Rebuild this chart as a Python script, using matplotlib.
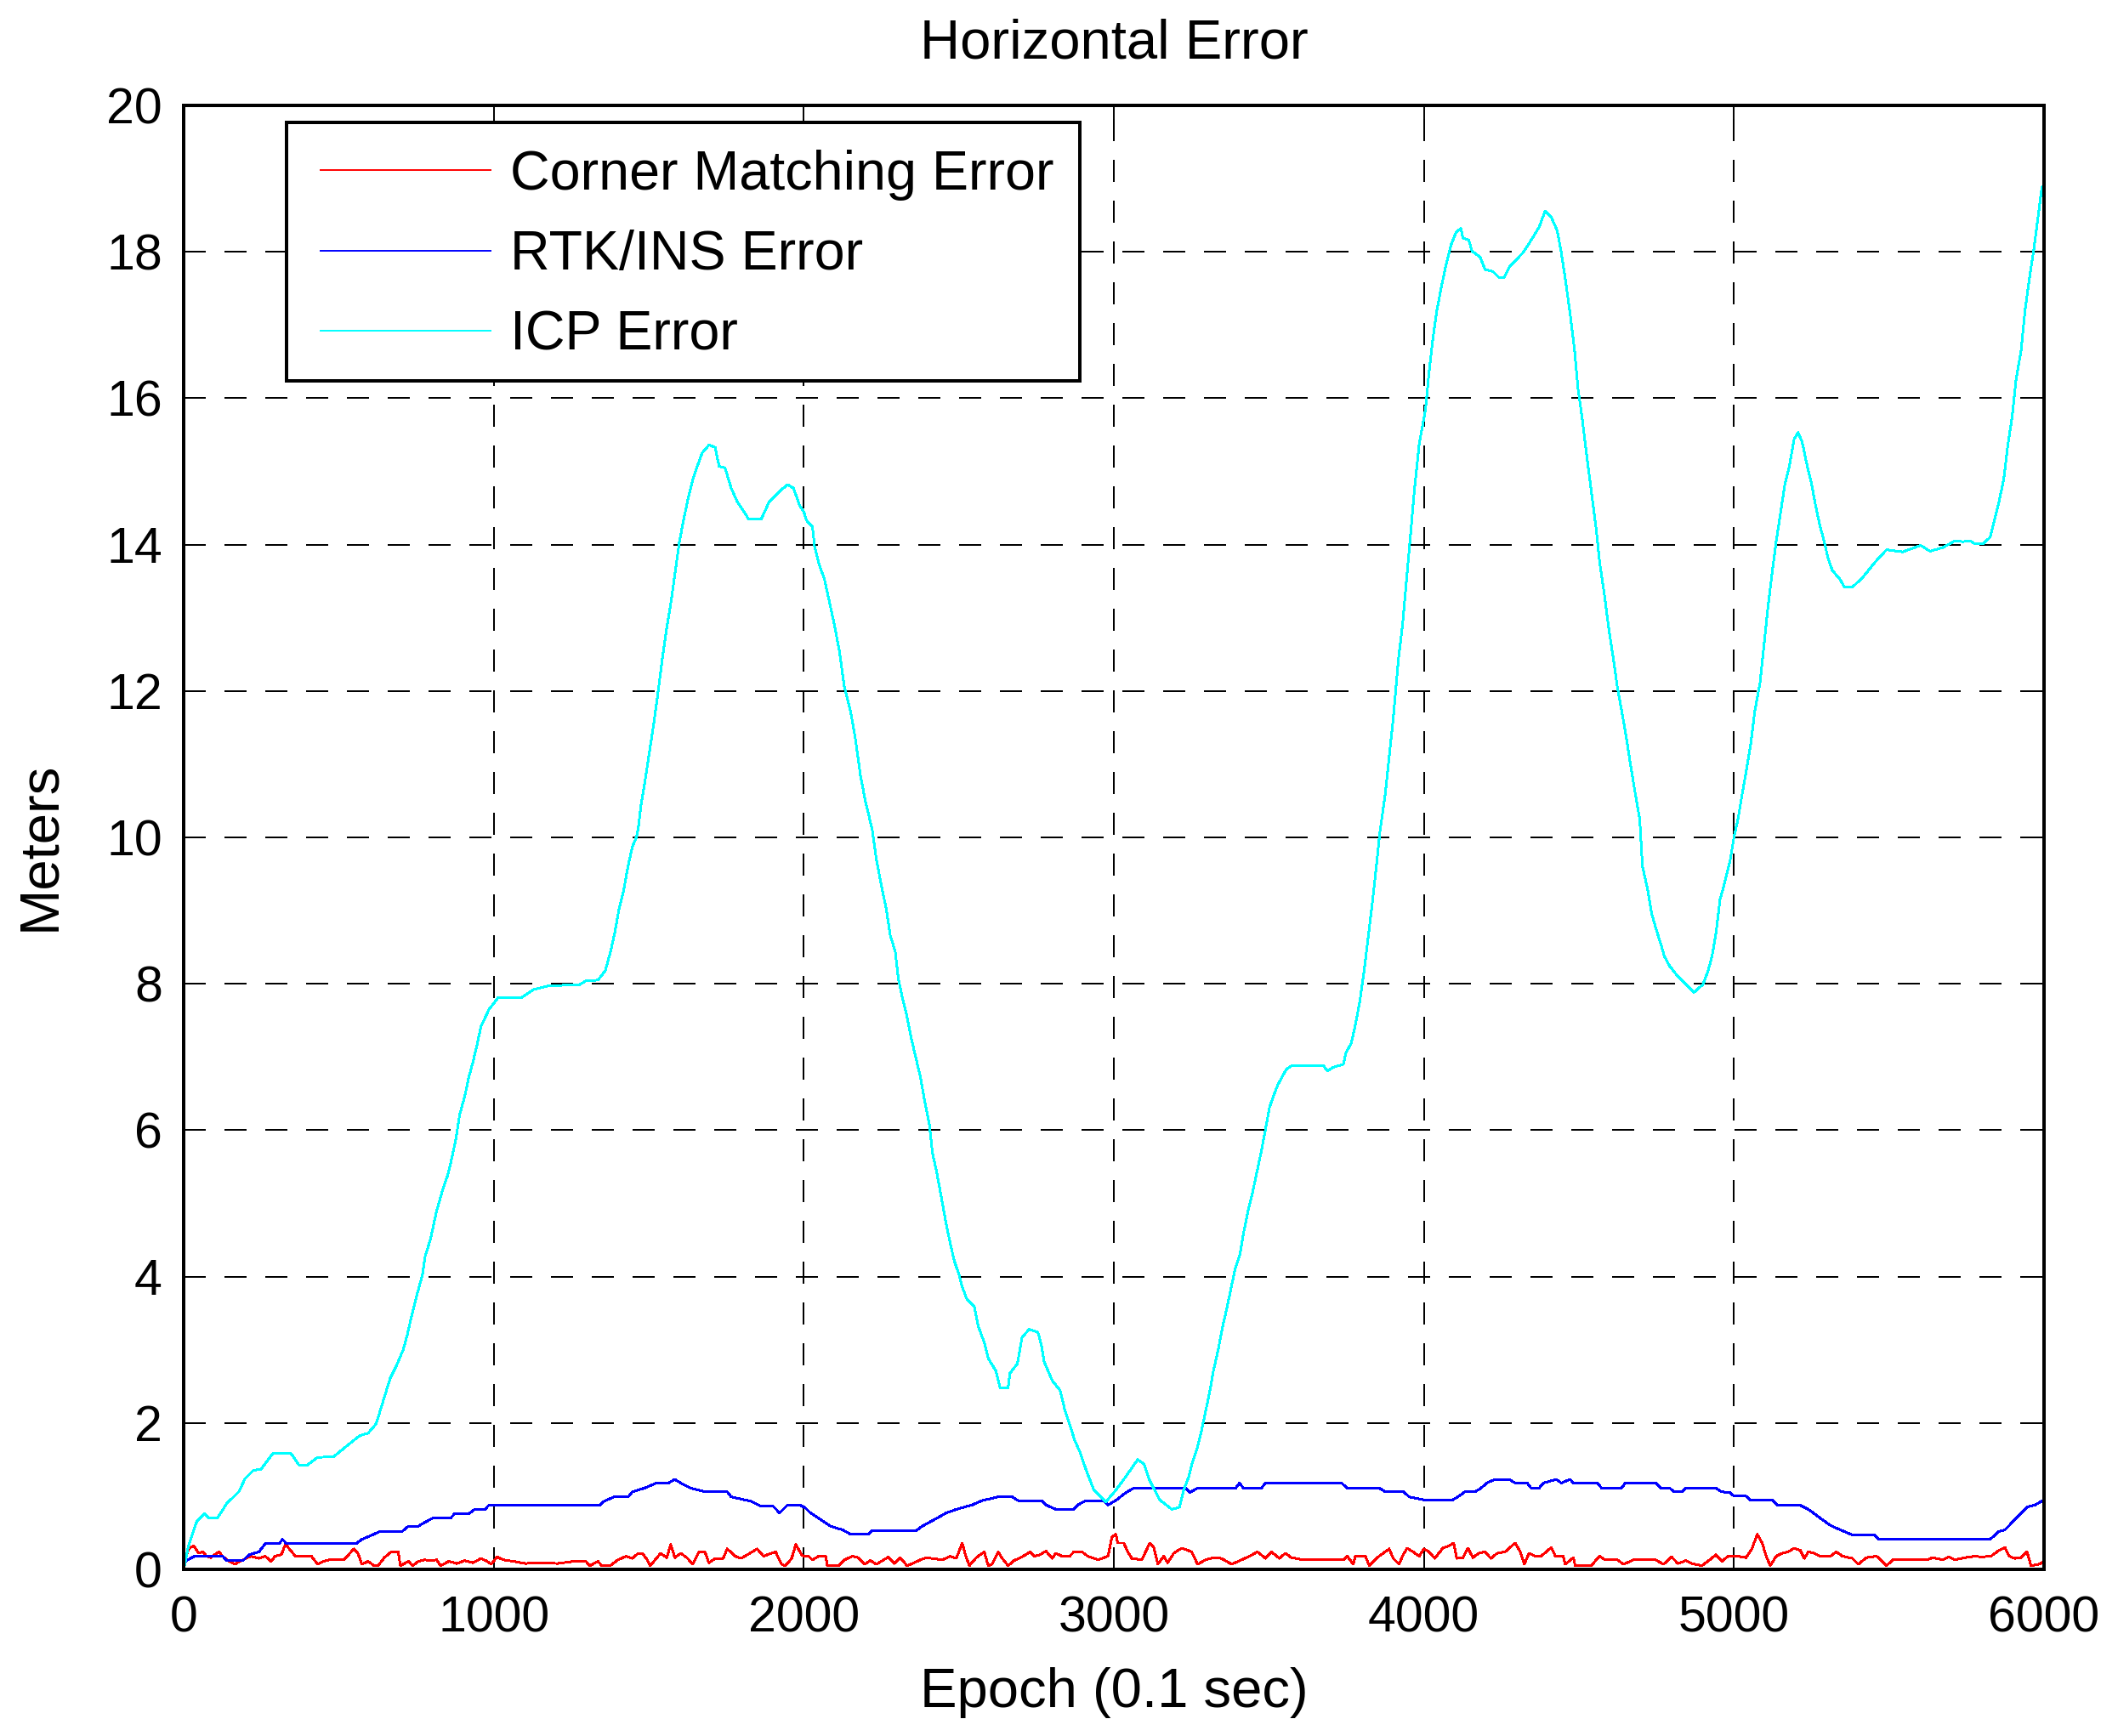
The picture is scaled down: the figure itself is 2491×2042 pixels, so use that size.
import matplotlib
matplotlib.use("Agg")
import matplotlib.pyplot as plt
from matplotlib.patches import Rectangle

plt.rcParams['font.family'] = ['Liberation Sans', 'DejaVu Sans']
plt.rcParams['lines.scale_dashes'] = False

# ---------------- data ----------------
title = "Horizontal Error"
xlabel = "Epoch (0.1 sec)"
ylabel = "Meters"
series_names = ["Corner Matching Error", "RTK/INS Error", "ICP Error"]
series_colors = ["#ff0000", "#0000ff", "#00ffff"]
x_ticks = [0, 1000, 2000, 3000, 4000, 5000, 6000]
y_ticks = [0, 2, 4, 6, 8, 10, 12, 14, 16, 18, 20]

corner_points = [
    (0, 0.07), (16, 0.28), (22, 0.30), (33, 0.32), (42, 0.26), (48, 0.22), (61, 0.24), (74, 0.18),
    (87, 0.16), (100, 0.20), (113, 0.24), (126, 0.18), (139, 0.13), (165, 0.07), (191, 0.13),
    (217, 0.18), (243, 0.15), (263, 0.18), (282, 0.11), (295, 0.18), (315, 0.20), (328, 0.34),
    (341, 0.28), (360, 0.18), (412, 0.18), (432, 0.07), (452, 0.11), (471, 0.13), (517, 0.13),
    (549, 0.28), (562, 0.22), (575, 0.07), (595, 0.11), (614, 0.05), (627, 0.05), (647, 0.16),
    (670, 0.24), (692, 0.24), (699, 0.05), (725, 0.11), (738, 0.05), (757, 0.11), (777, 0.13),
    (796, 0.12), (816, 0.13), (829, 0.05), (855, 0.11), (881, 0.08), (907, 0.12), (933, 0.09),
    (959, 0.15), (979, 0.11), (992, 0.07), (1011, 0.17), (1031, 0.13), (1063, 0.11), (1102, 0.08),
    (1154, 0.09), (1206, 0.08), (1258, 0.11), (1297, 0.11), (1310, 0.05), (1336, 0.11), (1349, 0.05),
    (1375, 0.05), (1401, 0.13), (1427, 0.18), (1447, 0.15), (1466, 0.22), (1479, 0.22), (1492, 0.15),
    (1505, 0.05), (1538, 0.22), (1558, 0.16), (1571, 0.34), (1584, 0.16), (1603, 0.22), (1623, 0.16),
    (1642, 0.07), (1662, 0.24), (1681, 0.24), (1694, 0.09), (1714, 0.15), (1740, 0.15), (1753, 0.28),
    (1779, 0.18), (1798, 0.15), (1818, 0.20), (1850, 0.28), (1870, 0.18), (1909, 0.24), (1928, 0.07),
    (1941, 0.05), (1961, 0.15), (1974, 0.34), (1993, 0.20),
    (2000, 0.18), (2015, 0.18), (2028, 0.13), (2048, 0.18), (2071, 0.18), (2076, 0.05), (2112, 0.05),
    (2131, 0.13), (2157, 0.18), (2176, 0.16), (2196, 0.07), (2215, 0.12), (2234, 0.07), (2254, 0.12),
    (2273, 0.17), (2292, 0.08), (2311, 0.16), (2333, 0.05), (2356, 0.09), (2376, 0.13), (2395, 0.16),
    (2447, 0.13), (2472, 0.18), (2492, 0.15), (2511, 0.36), (2521, 0.20), (2534, 0.05), (2556, 0.16),
    (2582, 0.24), (2595, 0.05), (2607, 0.07), (2627, 0.24), (2640, 0.15), (2659, 0.05), (2678, 0.12),
    (2704, 0.17), (2730, 0.24), (2743, 0.18), (2762, 0.20), (2781, 0.25), (2801, 0.15), (2813, 0.22),
    (2833, 0.18), (2858, 0.18), (2871, 0.24), (2897, 0.24), (2916, 0.18), (2949, 0.13), (2981, 0.18),
    (2994, 0.44), (3006, 0.48), (3013, 0.36), (3032, 0.36), (3045, 0.24), (3058, 0.15), (3090, 0.13),
    (3116, 0.36), (3129, 0.30), (3142, 0.07), (3161, 0.18), (3174, 0.09), (3193, 0.22), (3219, 0.29),
    (3251, 0.24), (3270, 0.07), (3296, 0.13), (3322, 0.16), (3347, 0.15), (3380, 0.07), (3412, 0.13),
    (3438, 0.18), (3463, 0.24), (3489, 0.15), (3508, 0.24), (3534, 0.15), (3553, 0.22), (3573, 0.16),
    (3611, 0.13), (3669, 0.13), (3740, 0.13), (3753, 0.18), (3772, 0.07), (3779, 0.18), (3811, 0.18),
    (3824, 0.05), (3849, 0.16), (3888, 0.28), (3901, 0.15), (3920, 0.07), (3933, 0.20), (3946, 0.29),
    (3965, 0.24), (3985, 0.18),
    (4000, 0.28), (4016, 0.24), (4035, 0.15), (4048, 0.22), (4061, 0.29), (4080, 0.32), (4096, 0.36),
    (4106, 0.15), (4126, 0.16), (4142, 0.29), (4158, 0.16), (4177, 0.22), (4197, 0.24), (4216, 0.15),
    (4236, 0.22), (4262, 0.24), (4294, 0.36), (4311, 0.24), (4324, 0.07), (4339, 0.22), (4359, 0.18),
    (4378, 0.18), (4411, 0.30), (4424, 0.18), (4449, 0.18), (4456, 0.07), (4482, 0.16), (4488, 0.05),
    (4540, 0.05), (4566, 0.18), (4585, 0.13), (4624, 0.13), (4644, 0.07), (4676, 0.13), (4705, 0.13),
    (4747, 0.13), (4773, 0.07), (4799, 0.17), (4819, 0.08), (4845, 0.12), (4864, 0.08), (4896, 0.05),
    (4922, 0.13), (4942, 0.20), (4961, 0.11), (4981, 0.18), (4994, 0.18), (5013, 0.18), (5039, 0.16),
    (5058, 0.28), (5075, 0.48), (5091, 0.36), (5104, 0.18), (5117, 0.05), (5136, 0.18), (5155, 0.22),
    (5175, 0.24), (5194, 0.29), (5214, 0.26), (5227, 0.15), (5240, 0.24), (5259, 0.22), (5278, 0.18),
    (5311, 0.18), (5330, 0.24), (5350, 0.18), (5382, 0.15), (5401, 0.07), (5427, 0.16), (5460, 0.18),
    (5492, 0.05), (5512, 0.13), (5622, 0.13), (5641, 0.16), (5674, 0.13), (5693, 0.17), (5712, 0.13),
    (5745, 0.16), (5777, 0.18), (5797, 0.17), (5829, 0.18), (5855, 0.26), (5874, 0.30), (5887, 0.18),
    (5906, 0.15), (5926, 0.16), (5945, 0.24), (5958, 0.05), (5984, 0.07), (6000, 0.11),
]

rtk_points = [
    (0, 0.07), (9, 0.12), (35, 0.18), (126, 0.18), (139, 0.12), (191, 0.12), (211, 0.20), (243, 0.24),
    (263, 0.35), (308, 0.35), (319, 0.41), (332, 0.35), (556, 0.35), (575, 0.41), (608, 0.47),
    (634, 0.52), (705, 0.52), (725, 0.59), (757, 0.59), (777, 0.64), (803, 0.70), (861, 0.70),
    (874, 0.76), (920, 0.76), (939, 0.82), (972, 0.82), (985, 0.88), (1343, 0.88), (1356, 0.93),
    (1388, 0.99), (1434, 0.99), (1447, 1.06), (1486, 1.11), (1525, 1.18), (1564, 1.18), (1584, 1.23),
    (1603, 1.18), (1636, 1.11), (1681, 1.06), (1753, 1.06), (1766, 0.99), (1831, 0.93), (1863, 0.86),
    (1902, 0.86), (1922, 0.77), (1948, 0.88), (1987, 0.88), (2005, 0.84), (2022, 0.77), (2048, 0.70),
    (2086, 0.59), (2125, 0.54), (2151, 0.48), (2209, 0.48), (2221, 0.53), (2363, 0.53), (2382, 0.59),
    (2408, 0.65), (2434, 0.71), (2459, 0.77), (2492, 0.82), (2543, 0.88), (2575, 0.94), (2627, 0.99),
    (2672, 0.99), (2691, 0.94), (2768, 0.94), (2781, 0.88), (2813, 0.82), (2871, 0.82), (2884, 0.88),
    (2910, 0.94), (2968, 0.94), (2981, 0.88), (3006, 0.94), (3039, 1.05), (3064, 1.11), (3232, 1.11),
    (3245, 1.05), (3270, 1.11), (3393, 1.11), (3405, 1.18), (3418, 1.11), (3476, 1.11), (3489, 1.18),
    (3734, 1.18), (3753, 1.11), (3856, 1.11), (3876, 1.06), (3934, 1.06), (3953, 0.99), (4000, 0.95),
    (4093, 0.95), (4113, 1.00), (4132, 1.06), (4165, 1.06), (4184, 1.11), (4203, 1.18), (4229, 1.23),
    (4275, 1.23), (4294, 1.18), (4333, 1.18), (4346, 1.11), (4372, 1.11), (4385, 1.18), (4427, 1.23),
    (4443, 1.18), (4472, 1.23), (4482, 1.18), (4560, 1.18), (4573, 1.11), (4637, 1.11), (4650, 1.18),
    (4747, 1.18), (4764, 1.11), (4793, 1.11), (4806, 1.06), (4832, 1.06), (4845, 1.11), (4942, 1.11),
    (4959, 1.06), (4987, 1.05), (5000, 1.00), (5039, 1.00), (5052, 0.95), (5123, 0.95), (5140, 0.88),
    (5212, 0.88), (5240, 0.82), (5272, 0.72), (5311, 0.60), (5343, 0.54), (5382, 0.47), (5453, 0.47),
    (5466, 0.41), (5826, 0.41), (5855, 0.52), (5874, 0.54), (5913, 0.71), (5945, 0.85), (5971, 0.88),
    (6000, 0.95),
]

icp_points = [
    (0, 0.0), (16, 0.33), (29, 0.49), (42, 0.65), (68, 0.76), (81, 0.70), (109, 0.70), (139, 0.90),
    (178, 1.06), (198, 1.24), (224, 1.35), (250, 1.37), (289, 1.59), (345, 1.59), (373, 1.42),
    (397, 1.42), (432, 1.53), (484, 1.54), (530, 1.70), (569, 1.83), (595, 1.86), (621, 1.99),
    (640, 2.25), (666, 2.61), (686, 2.78), (708, 3.00), (721, 3.20), (735, 3.46), (751, 3.73),
    (770, 4.02), (779, 4.28), (796, 4.51), (816, 4.90), (835, 5.18), (852, 5.39), (865, 5.62),
    (878, 5.88), (890, 6.21), (907, 6.47), (920, 6.73), (933, 6.93), (946, 7.16), (959, 7.42),
    (985, 7.65), (1014, 7.81), (1089, 7.81), (1128, 7.92), (1174, 7.97), (1278, 7.99), (1297, 8.04),
    (1336, 8.05), (1360, 8.18), (1378, 8.46), (1391, 8.71), (1404, 9.02), (1418, 9.25), (1432, 9.58),
    (1447, 9.87), (1460, 10.00), (1466, 10.12), (1475, 10.44), (1489, 10.80), (1502, 11.16),
    (1516, 11.55), (1529, 11.95), (1545, 12.48), (1558, 12.86), (1573, 13.25), (1586, 13.65),
    (1599, 14.04), (1612, 14.33), (1629, 14.67), (1642, 14.89), (1655, 15.05), (1672, 15.25),
    (1694, 15.36), (1714, 15.33), (1727, 15.07), (1746, 15.05), (1766, 14.77), (1785, 14.59),
    (1822, 14.35), (1863, 14.35), (1889, 14.59), (1922, 14.73), (1948, 14.82), (1967, 14.77),
    (1987, 14.53), (2000, 14.45), (2009, 14.33), (2028, 14.24), (2035, 13.97), (2048, 13.75),
    (2067, 13.52), (2084, 13.19), (2099, 12.90), (2115, 12.54), (2131, 12.05), (2151, 11.72),
    (2166, 11.36), (2183, 10.84), (2198, 10.51), (2221, 10.10), (2234, 9.70), (2250, 9.35),
    (2266, 9.02), (2279, 8.66), (2295, 8.44), (2305, 8.07), (2318, 7.81), (2333, 7.55), (2346, 7.27),
    (2363, 6.96), (2376, 6.73), (2389, 6.42), (2405, 6.08), (2415, 5.69), (2428, 5.44), (2443, 5.10),
    (2457, 4.77), (2470, 4.50), (2485, 4.22), (2501, 4.02), (2511, 3.86), (2526, 3.69), (2550, 3.59),
    (2562, 3.33), (2582, 3.10), (2595, 2.88), (2620, 2.71), (2633, 2.48), (2659, 2.48), (2665, 2.68),
    (2689, 2.81), (2704, 3.17), (2727, 3.28), (2755, 3.24), (2766, 3.07), (2775, 2.84), (2801, 2.58),
    (2826, 2.45), (2843, 2.16), (2859, 1.96), (2874, 1.76), (2891, 1.60), (2912, 1.34), (2936, 1.08),
    (2974, 0.92), (3006, 1.08), (3039, 1.27), (3077, 1.50), (3097, 1.44), (3116, 1.21), (3148, 0.95),
    (3187, 0.82), (3212, 0.85), (3225, 1.08), (3242, 1.27), (3254, 1.47), (3270, 1.67), (3283, 1.90),
    (3296, 2.16), (3309, 2.42), (3321, 2.71), (3337, 3.01), (3350, 3.30), (3364, 3.56), (3379, 3.86),
    (3392, 4.12), (3407, 4.31), (3418, 4.59), (3433, 4.90), (3448, 5.16), (3463, 5.46), (3476, 5.72),
    (3489, 6.01), (3502, 6.31), (3515, 6.47), (3530, 6.63), (3556, 6.83), (3573, 6.88), (3676, 6.88),
    (3689, 6.81), (3708, 6.86), (3740, 6.90), (3749, 7.06), (3766, 7.19), (3781, 7.48), (3794, 7.78),
    (3807, 8.17), (3820, 8.63), (3833, 9.08), (3846, 9.58), (3858, 10.07), (3875, 10.58),
    (3888, 11.10), (3901, 11.62), (3918, 12.44), (3931, 12.90), (3944, 13.52), (3957, 14.14),
    (3969, 14.73), (3985, 15.38), (4005, 15.84), (4016, 16.33), (4028, 16.78), (4041, 17.18),
    (4054, 17.47), (4070, 17.80), (4087, 18.09), (4104, 18.27), (4119, 18.32), (4126, 18.19),
    (4145, 18.16), (4155, 18.01), (4181, 17.93), (4197, 17.76), (4223, 17.73), (4242, 17.65),
    (4259, 17.65), (4277, 17.80), (4320, 17.99), (4346, 18.16), (4372, 18.34), (4391, 18.56),
    (4411, 18.47), (4430, 18.29), (4443, 17.99), (4456, 17.63), (4472, 17.14), (4486, 16.65),
    (4497, 16.13), (4510, 15.74), (4525, 15.22), (4540, 14.73), (4556, 14.20), (4567, 13.75),
    (4582, 13.32), (4596, 12.86), (4611, 12.44), (4624, 12.05), (4637, 11.75), (4653, 11.36),
    (4666, 11.00), (4680, 10.64), (4696, 10.25), (4705, 9.60), (4722, 9.28), (4735, 8.95),
    (4750, 8.73), (4763, 8.56), (4776, 8.37), (4793, 8.24), (4819, 8.10), (4858, 7.94), (4870, 7.88),
    (4900, 7.99), (4916, 8.17), (4929, 8.37), (4942, 8.69), (4955, 9.15), (4970, 9.38), (4987, 9.67),
    (5000, 10.00), (5013, 10.25), (5026, 10.58), (5041, 10.94), (5054, 11.27), (5067, 11.72),
    (5084, 12.11), (5097, 12.63), (5110, 13.16), (5123, 13.61), (5136, 14.04), (5148, 14.37),
    (5164, 14.82), (5179, 15.08), (5194, 15.44), (5207, 15.53), (5220, 15.40), (5236, 15.08),
    (5249, 14.86), (5262, 14.56), (5275, 14.30), (5289, 14.07), (5304, 13.81), (5317, 13.65),
    (5343, 13.52), (5356, 13.42), (5382, 13.42), (5415, 13.55), (5453, 13.75), (5492, 13.93),
    (5544, 13.90), (5570, 13.94), (5602, 13.99), (5632, 13.91), (5674, 13.96), (5712, 14.05),
    (5738, 14.04), (5762, 14.05), (5777, 14.01), (5803, 14.01), (5826, 14.10), (5842, 14.37),
    (5855, 14.59), (5870, 14.89), (5883, 15.35), (5897, 15.74), (5910, 16.26), (5926, 16.65),
    (5939, 17.21), (5954, 17.67), (5967, 18.03), (5980, 18.45), (5993, 18.88), (6000, 18.90),
]

# ---------------- figure ----------------
W, H = 2491, 2042
fig = plt.figure(figsize=(W / 100, H / 100), dpi=100)
fig.patch.set_facecolor('white')

ax_left, ax_right, ax_top, ax_bottom = 216, 2404, 124, 1846
axw, axh = ax_right - ax_left, ax_bottom - ax_top
ax = fig.add_axes([ax_left / W, (H - ax_bottom) / H, axw / W, axh / H])


def ax_fx(px):
    return (px - ax_left) / axw


def ax_fy(py):
    return (ax_bottom - py) / axh


lw = 1.4
for pts, name, col in zip([corner_points, rtk_points, icp_points], series_names, series_colors):
    xs, ys = zip(*pts)
    ax.plot(xs, ys, color=col, linewidth=lw, label=name, zorder=3, antialiased=False)

ax.set_xlim(0, 6000)
ax.set_ylim(0, 20)
ax.set_xticks(x_ticks)
ax.set_yticks(y_ticks)
ax.set_xticklabels([str(v) for v in x_ticks])
ax.set_yticklabels([str(v) for v in y_ticks])

ax.set_axisbelow(True)
ax.grid(True, color='black', linewidth=1.4, linestyle=(0, (18.5, 16.0)), antialiased=False)

for sp in ax.spines.values():
    sp.set_linewidth(1.45)
    sp.set_color('black')
    sp.set_zorder(5)
    sp.set_antialiased(False)

ax.tick_params(axis='both', which='major', direction='in', length=16, width=1.4,
               top=True, right=True, labelsize=42.5, colors='black')
ax.tick_params(axis='x', pad=22)
ax.tick_params(axis='y', pad=18)

ax.set_title(title, fontsize=47, pad=40)
ax.set_xlabel(xlabel, fontsize=47)
ax.set_ylabel(ylabel, fontsize=47)
ax.xaxis.set_label_coords(0.5, ax_fy(1961))
ax.yaxis.set_label_coords(ax_fx(77), 0.494)

# legend: entries from the plotted lines, frame drawn as a fixed box
frame_l, frame_t, frame_r, frame_b = 337, 144, 1270, 448
box = Rectangle((ax_fx(frame_l), ax_fy(frame_b)), ax_fx(frame_r) - ax_fx(frame_l),
                ax_fy(frame_t) - ax_fy(frame_b), transform=ax.transAxes,
                facecolor='white', edgecolor='black', linewidth=1.45, zorder=9,
                antialiased=False)
ax.add_patch(box)

leg = ax.legend(loc='upper left', bbox_to_anchor=(ax_fx(377), ax_fy(176)),
                borderaxespad=0, fontsize=46.5, handlelength=3.1, handletextpad=0.36,
                borderpad=0.0, labelspacing=0.53, frameon=False)
leg.set_zorder(10)

fig.savefig("out.png", dpi=100, facecolor='white')
